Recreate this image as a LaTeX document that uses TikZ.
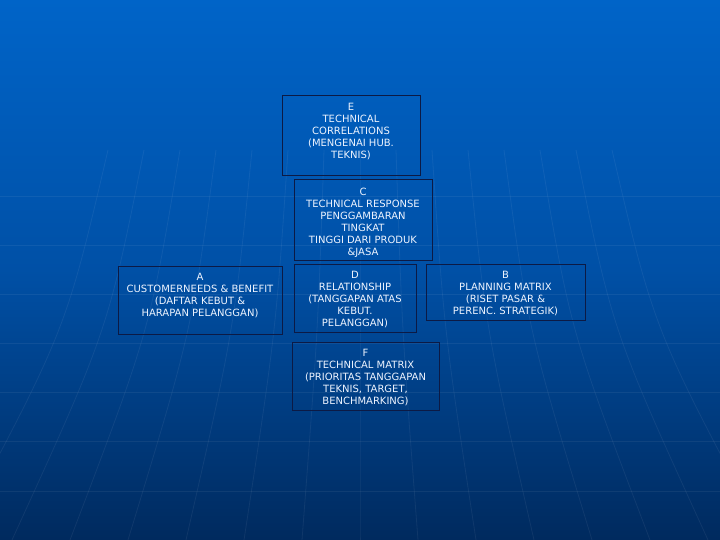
\documentclass[tikz,border=0pt]{standalone}
\usepackage{fontspec}
\setmainfont{DejaVu Sans}
\definecolor{bgtop}{HTML}{0064C8}
\definecolor{bgmid}{HTML}{0050A6}
\definecolor{bgbot}{HTML}{002A5E}
\definecolor{boxline}{HTML}{0C1A45}
\definecolor{txtcol}{HTML}{EEF4FF}
\tikzset{
  box/.style={draw=boxline, line width=1pt, rectangle, inner sep=0pt},
  txt/.style={anchor=north, align=center, text=txtcol, inner sep=0pt,
    font=\fontsize{10}{12}\selectfont},
  grid/.style={draw=white, opacity=0.06, line width=0.8pt}
}
\begin{document}
\begin{tikzpicture}[x=1pt,y=-1pt]
\useasboundingbox (0,0) rectangle (720,540);
\shade[top color=bgtop, bottom color=bgbot, middle color=bgmid] (0,0) rectangle (720,540);
% faint globe grid
\foreach \y in {196,245,294,343,392,441,491} {
  \draw[grid] (0,\y) -- (720,\y);
}
\foreach \k in {-7,-6,-5,-4,-3,-2,-1,0,1,2,3,4,5,6,7} {
  \draw[grid] ({360+\k*36},150) .. controls ({360+\k*42},330) .. ({360+\k*58},540);
}
% boxes
\node[box, minimum width=138pt, minimum height=80pt] (E) at (351,136) {};
\node[box, minimum width=138pt, minimum height=80pt] (C) at (363,220) {};
\node[box, minimum width=164pt, minimum height=68pt] (A) at (200,300) {};
\node[box, minimum width=122pt, minimum height=68pt] (D) at (355,298) {};
\node[box, minimum width=159pt, minimum height=56pt] (B) at (505.5,292) {};
\node[box, minimum width=147pt, minimum height=68pt] (F) at (365.5,376) {};
% texts
\node[txt] (Et) at ([yshift=-8pt]E.north) {E\\TECHNICAL\\CORRELATIONS\\(MENGENAI HUB.\\TEKNIS)};
\node[txt] (Ct) at ([yshift=-8pt]C.north) {C\\TECHNICAL RESPONSE\\PENGGAMBARAN\\TINGKAT\\TINGGI DARI PRODUK\\\&JASA};
\node[txt] (At) at ([yshift=-8pt]A.north) {A\\CUSTOMERNEEDS \& BENEFIT\\(DAFTAR KEBUT \&\\HARAPAN PELANGGAN)};
\node[txt] (Dt) at ([yshift=-8pt]D.north) {D\\RELATIONSHIP\\(TANGGAPAN ATAS\\KEBUT.\\PELANGGAN)};
\node[txt] (Bt) at ([yshift=-8pt]B.north) {B\\PLANNING MATRIX\\(RISET PASAR \&\\PERENC. STRATEGIK)};
\node[txt] (Ft) at ([yshift=-8pt]F.north) {F\\TECHNICAL MATRIX\\(PRIORITAS TANGGAPAN\\TEKNIS, TARGET,\\BENCHMARKING)};
\end{tikzpicture}
\end{document}
